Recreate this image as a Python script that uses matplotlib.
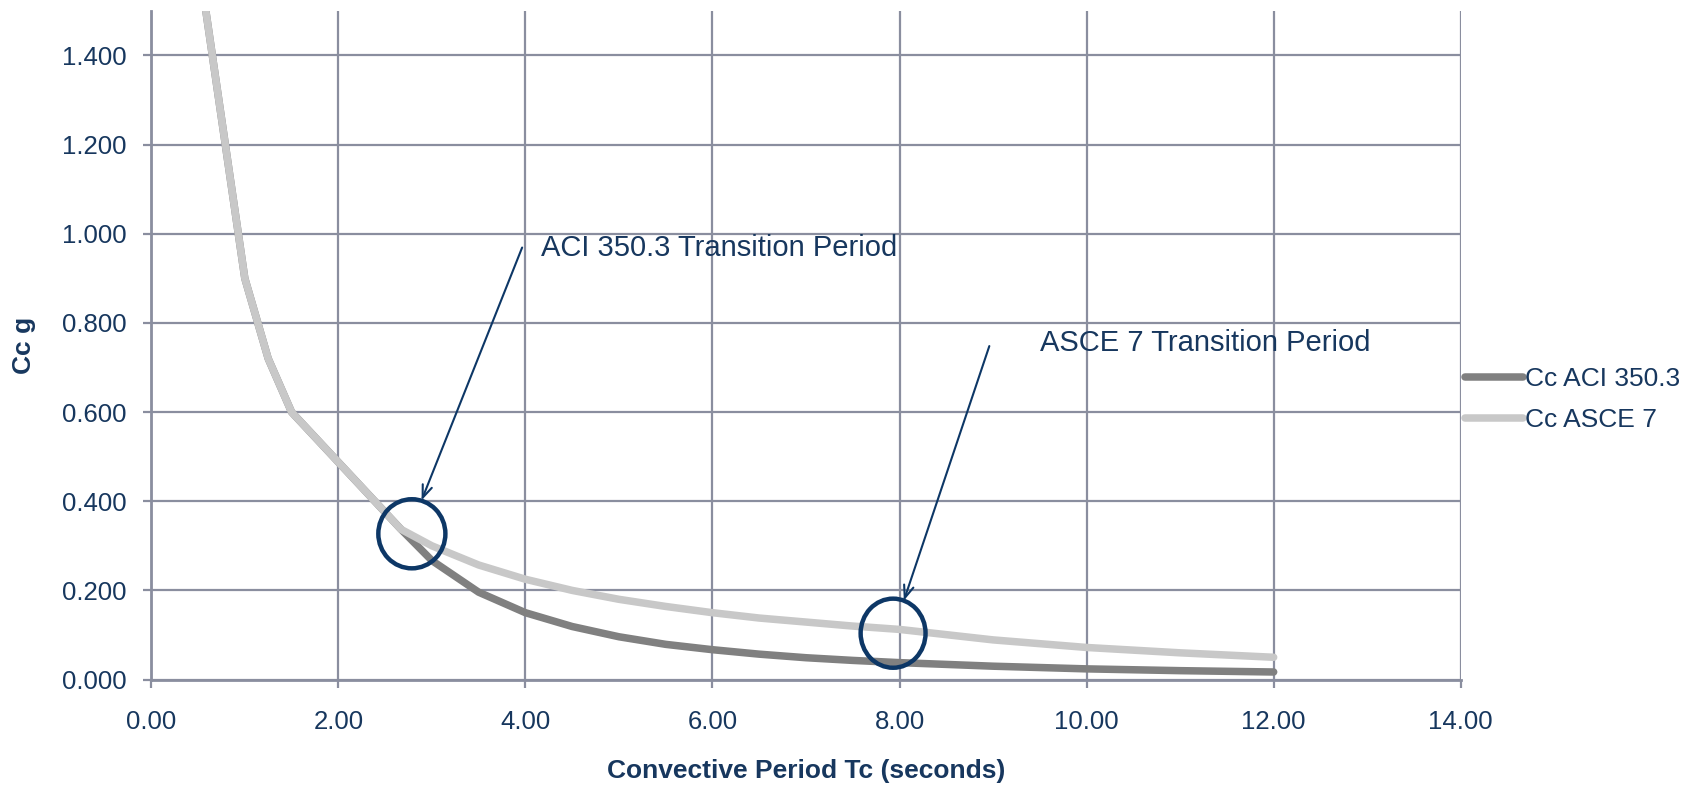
import matplotlib
matplotlib.use("Agg")
import matplotlib.pyplot as plt
from matplotlib.patches import Ellipse
from matplotlib.ticker import FormatStrFormatter, MultipleLocator

plt.rcParams['font.family'] = ['Liberation Sans', 'DejaVu Sans']

# ---- data ----
tc = [0.5, 1.0, 1.25, 1.5, 2.67, 3.0, 3.5, 4.0, 4.5, 5.0, 5.5, 6.0,
      6.5, 7.0, 7.5, 8.0, 9.0, 10.0, 11.0, 12.0]
cc_aci = [1.62, 0.90, 0.72, 0.60, 0.337, 0.267, 0.196, 0.150, 0.119,
          0.096, 0.079, 0.067, 0.057, 0.049, 0.043, 0.038, 0.030, 0.024, 0.020, 0.017]
cc_asce = [1.62, 0.90, 0.72, 0.60, 0.337, 0.300, 0.257, 0.225, 0.200,
           0.180, 0.164, 0.150, 0.138, 0.129, 0.120, 0.1125, 0.089, 0.072, 0.060, 0.050]
series_labels = ["Cc ACI 350.3", "Cc ASCE 7"]
x_label = "Convective Period Tc (seconds)"
y_label = "Cc g"
note_aci = "ACI 350.3 Transition Period"
note_asce = "ASCE 7 Transition Period"

NAVY = "#17375E"
GRID = "#8A8E9F"
CIRCLE = "#0D3766"
FS = 18.5

fig = plt.figure(figsize=(16.94, 7.88), dpi=100)
ax = fig.add_axes([0.0893, 0.1376, 0.7730, 0.8487])

ax.plot(tc, cc_aci, color="#808080", lw=5.4, solid_capstyle='round',
        solid_joinstyle='round', label=series_labels[0], zorder=3)
ax.plot(tc, cc_asce, color="#C8C8C8", lw=5.4, solid_capstyle='round',
        solid_joinstyle='round', label=series_labels[1], zorder=4)

ax.set_xlim(0, 14)
ax.set_ylim(0, 1.5)
ax.xaxis.set_major_locator(MultipleLocator(2))
ax.yaxis.set_major_locator(MultipleLocator(0.2))
ax.xaxis.set_major_formatter(FormatStrFormatter('%.2f'))
ax.yaxis.set_major_formatter(FormatStrFormatter('%.3f'))

ax.grid(True, color=GRID, lw=1.6, zorder=0)
ax.set_axisbelow(True)
for s in ['top', 'right']:
    ax.spines[s].set_visible(False)
for s in ['left', 'bottom']:
    ax.spines[s].set_color(GRID)
    ax.spines[s].set_linewidth(2.0)
ax.tick_params(axis='both', colors=GRID, length=6, width=1.6,
               labelcolor=NAVY, labelsize=FS)
ax.tick_params(axis='x', pad=16)
ax.tick_params(axis='y', pad=12)

ax.set_xlabel(x_label, fontsize=19, fontweight='bold', color=NAVY)
ax.xaxis.set_label_coords(0.5, -0.1367)
ax.xaxis.label.set_verticalalignment('center')
ax.set_ylabel(y_label, fontsize=19, fontweight='bold', color=NAVY)
ax.yaxis.set_label_coords(-0.0974, 0.5)
ax.yaxis.label.set_verticalalignment('center')
ax.yaxis.label.set_horizontalalignment('center')

# circles
for (cx, cy, w, h) in [(2.786, 0.327, 0.717, 0.155), (7.931, 0.104, 0.694, 0.155)]:
    ax.add_patch(Ellipse((cx, cy), w, h, fill=False, ec=CIRCLE, lw=3.2,
                         zorder=6, clip_on=False))

# arrows and notes
arrow_kw = dict(arrowstyle='->,head_length=0.9,head_width=0.35', color=CIRCLE,
                lw=1.5, shrinkA=0, shrinkB=0)
ax.annotate("", xy=(2.890, 0.402), xytext=(3.965, 0.969), arrowprops=arrow_kw, zorder=7)
ax.annotate("", xy=(8.046, 0.177), xytext=(8.960, 0.748), arrowprops=arrow_kw, zorder=7)
ax.text(4.162, 0.968, note_aci, fontsize=21, color=NAVY, ha='left', va='center', zorder=8)
ax.text(9.503, 0.755, note_asce, fontsize=21, color=NAVY, ha='left', va='center', zorder=8)

leg = ax.legend(loc='center left', bbox_to_anchor=(1.003, 0.419), frameon=False,
                borderaxespad=0, borderpad=0, handlelength=2.2, handletextpad=0.1,
                labelspacing=0.65, fontsize=19)
for t in leg.get_texts():
    t.set_color(NAVY)

fig.savefig("out.png", dpi=100)
